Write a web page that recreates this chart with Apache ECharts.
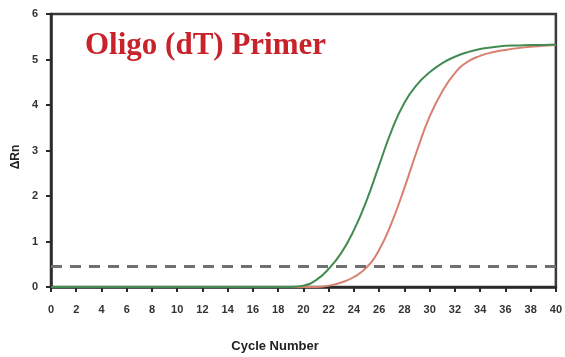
<!DOCTYPE html>
<html><head><meta charset="utf-8">
<script src="https://cdn.jsdelivr.net/npm/echarts@6/dist/echarts.min.js"></script>
<style>html,body{margin:0;padding:0;background:#fff}#c{width:565px;height:357px}</style>
</head><body><div id="c"></div>
<script>
var cycles = [];
for (var i = 0; i <= 40; i++) cycles.push(i);
var greenValues = [0,0,0,0,0,0,0,0,0,0,0,0,0,0,0,0,0,0,0,0,
  0.03,0.15,0.4,0.75,1.25,1.9,2.68,3.45,4.05,4.45,4.72,4.92,5.06,5.16,5.23,5.27,5.3,5.31,5.32,5.32,5.33];
var redValues = [0,0,0,0,0,0,0,0,0,0,0,0,0,0,0,0,0,0,0,0,0,0,
  0.03,0.1,0.22,0.43,0.82,1.42,2.18,3.0,3.75,4.3,4.7,4.95,5.08,5.16,5.21,5.25,5.28,5.3,5.32];
var threshold = 0.45;
var titleText = 'Oligo (dT) Primer';
var xName = 'Cycle Number';
var yName = '\u0394Rn';

function pairs(vals){ return cycles.map(function(c,i){ return [c, vals[i]]; }); }

var chart = echarts.init(document.getElementById('c'), null, {renderer:'canvas'});
chart.setOption({
  animation: false,
  backgroundColor: '#fff',
  grid: {left: 51, right: 8, top: 14, bottom: 70, show: true, borderColor: '#3a3a3a', borderWidth: 2.5, backgroundColor: 'transparent'},
  xAxis: {
    type: 'value', min: 0, max: 40, interval: 2,
    axisLine: {lineStyle: {color: '#2a2a2a', width: 2.5}},
    axisTick: {show: true, length: 5, lineStyle: {color: '#2a2a2a', width: 2}},
    axisLabel: {margin: 17, color: '#333', fontSize: 11, fontWeight: 'bold', fontFamily: 'Liberation Sans'},
    splitLine: {show: false}
  },
  yAxis: {
    type: 'value', min: 0, max: 6, interval: 1,
    axisLine: {show: true, lineStyle: {color: '#2a2a2a', width: 2.5}},
    axisTick: {show: true, length: 5, lineStyle: {color: '#2a2a2a', width: 2}},
    axisLabel: {margin: 13, color: '#333', fontSize: 11, fontWeight: 'bold', fontFamily: 'Liberation Sans'},
    splitLine: {show: false}
  },
  graphic: [
    {type: 'text', left: 85, top: 30, style: {text: titleText, fill: '#c8232b', font: 'bold 31px "Liberation Serif"'}},
    {type: 'text', x: 275, y: 346, style: {text: xName, fill: '#222', font: 'bold 13px "Liberation Sans"', align: 'center', verticalAlign: 'middle'}},
    {type: 'text', x: 16, y: 157, rotation: Math.PI/2, style: {text: yName, fill: '#222', font: 'bold 12px "Liberation Sans"', align: 'center', verticalAlign: 'middle'}}
  ],
  series: [
    {type: 'line', data: pairs(redValues), smooth: 0.5, showSymbol: false,
     lineStyle: {color: '#d88070', width: 2}, z: 3,
     markLine: {silent: true, symbol: 'none', label: {show: false},
       lineStyle: {color: '#707070', width: 3, type: [11, 8]},
       data: [{yAxis: threshold}]}},
    {type: 'line', data: pairs(greenValues), smooth: 0.5, showSymbol: false,
     lineStyle: {color: '#428c52', width: 2}, z: 4}
  ]
});
</script></body></html>
